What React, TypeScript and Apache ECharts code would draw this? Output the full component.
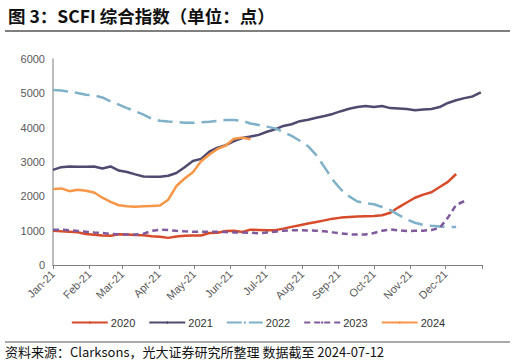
import React, { useEffect, useRef } from "react";
import * as echarts from "echarts";

const monthLabels = ["Jan-21", "Feb-21", "Mar-21", "Apr-21", "May-21", "Jun-21", "Jul-21", "Aug-21", "Sep-21", "Oct-21", "Nov-21", "Dec-21"];
const monthStartDays = [0, 31, 59, 90, 120, 151, 181, 212, 243, 273, 304, 334, 365];
const yTicks = [0, 1000, 2000, 3000, 4000, 5000, 6000];

const s2020 = [1000, 980, 970, 955, 900, 880, 860, 855, 895, 890, 875, 865, 840, 825, 790, 830, 850, 860, 860, 930, 940, 990, 1000, 960, 1030, 1020, 1010, 1015, 1060, 1110, 1160, 1210, 1250, 1300, 1350, 1380, 1400, 1410, 1420, 1430, 1450, 1520, 1680, 1820, 1960, 2050, 2120, 2270, 2420, 2650];
const s2021 = [2770, 2850, 2870, 2860, 2860, 2870, 2810, 2870, 2750, 2710, 2640, 2580, 2570, 2570, 2600, 2680, 2850, 3030, 3090, 3300, 3420, 3490, 3610, 3700, 3740, 3790, 3880, 3950, 4050, 4100, 4190, 4230, 4290, 4340, 4400, 4480, 4550, 4600, 4630, 4600, 4630, 4570, 4560, 4545, 4510, 4530, 4545, 4600, 4720, 4800, 4860, 4910, 5030];
const s2022 = [5100, 5080, 5050, 5010, 4960, 4940, 4880, 4760, 4670, 4570, 4480, 4380, 4260, 4200, 4180, 4170, 4140, 4140, 4160, 4175, 4200, 4220, 4220, 4200, 4120, 4080, 4030, 3980, 3880, 3760, 3620, 3460, 3200, 2850, 2480, 2200, 2000, 1850, 1800, 1770, 1690, 1600, 1460, 1330, 1230, 1170, 1140, 1120, 1110, 1110];
const s2023 = [1030, 1030, 1010, 990, 970, 950, 935, 905, 895, 885, 890, 910, 995, 1030, 1020, 995, 980, 970, 970, 970, 970, 960, 950, 950, 940, 925, 950, 970, 1000, 1015, 1010, 1005, 1000, 980, 950, 920, 895, 885, 890, 930, 1000, 1035, 1010, 990, 995, 1000, 1020, 1080, 1380, 1750, 1860];
const s2024 = [2210, 2230, 2150, 2190, 2160, 2110, 1960, 1840, 1740, 1710, 1700, 1710, 1720, 1730, 1900, 2300, 2520, 2700, 3020, 3220, 3380, 3480, 3680, 3710, 3660];

const seriesNames = ["2020", "2021", "2022", "2023", "2024"];
const seriesColors = ["#d84b2a", "#4f4a6e", "#7fb1c8", "#7f5a9c", "#f79646"];

const weekly = (arr: number[]) => arr.map((v, i) => [i * 7, v]);

export default function App() {
  const ref = useRef<HTMLDivElement>(null);
  useEffect(() => {
    if (!ref.current) return;
    const chart = echarts.init(ref.current, null, { renderer: "svg" });
    const all = [s2020, s2021, s2022, s2023, s2024];
    const dashes: any[] = ["solid", "solid", [15, 7], [6, 4], "solid"];
    chart.setOption({
      animation: false,
      textStyle: { fontFamily: "'Liberation Sans', Arial, sans-serif" },
      title: {
        text: "图 3：SCFI 综合指数（单位：点）",
        left: 3,
        top: 2,
        textStyle: { fontFamily: "'Noto Sans CJK SC', sans-serif", fontSize: 17.5, fontWeight: "bold", color: "#111" },
      },
      graphic: [
        { type: "line", shape: { x1: 5, y1: 31, x2: 510, y2: 31 }, style: { stroke: "#555", lineWidth: 1.5 } },
        { type: "line", shape: { x1: 5, y1: 342, x2: 510, y2: 342 }, style: { stroke: "#555", lineWidth: 1 } },
        {
          type: "text",
          left: 5,
          top: 345,
          style: { text: "资料来源：Clarksons，光大证券研究所整理 数据截至 2024-07-12", font: "13px 'Noto Sans CJK SC', sans-serif", fill: "#111" },
        },
      ],
      legend: {
        bottom: 30,
        left: "center",
        itemWidth: 36,
        itemHeight: 3,
        itemGap: 13,
        textStyle: { fontSize: 11, color: "#333", padding: [0, 0, 0, -2] },
        data: seriesNames,
      },
      grid: { left: 53, right: 34, top: 59, bottom: 98, containLabel: false },
      xAxis: {
        type: "value",
        min: 0,
        max: 365,
        axisLine: { show: true, lineStyle: { color: "#808080", width: 1 } },
        axisTick: { show: true, customValues: monthStartDays, length: 4, lineStyle: { color: "#808080" } },
        axisLabel: {
          customValues: monthStartDays.slice(0, 12),
          rotate: 45,
          fontSize: 11,
          color: "#595959",
          margin: 7,
          formatter: (v: number) => {
            const idx = monthStartDays.indexOf(Math.round(v));
            return idx >= 0 && idx < 12 ? monthLabels[idx] : "";
          },
        },
        splitLine: { show: false },
      },
      yAxis: {
        type: "value",
        min: yTicks[0],
        max: yTicks[yTicks.length - 1],
        interval: 1000,
        axisLine: { show: true, lineStyle: { color: "#a6a6a6", width: 1.5 } },
        axisTick: { show: false },
        axisLabel: { fontSize: 11, color: "#595959", margin: 8, formatter: (v: number) => String(v) },
        splitLine: { show: false },
      },
      series: all.map((arr, k) => ({
        name: seriesNames[k],
        type: "line",
        data: weekly(arr),
        symbol: "none",
        smooth: false,
        color: seriesColors[k],
        lineStyle: { color: seriesColors[k], width: 2.5, type: dashes[k] },
        z: k === 4 ? 5 : 2,
      })),
    });
    return () => chart.dispose();
  }, []);
  return <div ref={ref} style={{ width: 516, height: 363, position: "absolute", left: 0, top: 0 }} />;
}
